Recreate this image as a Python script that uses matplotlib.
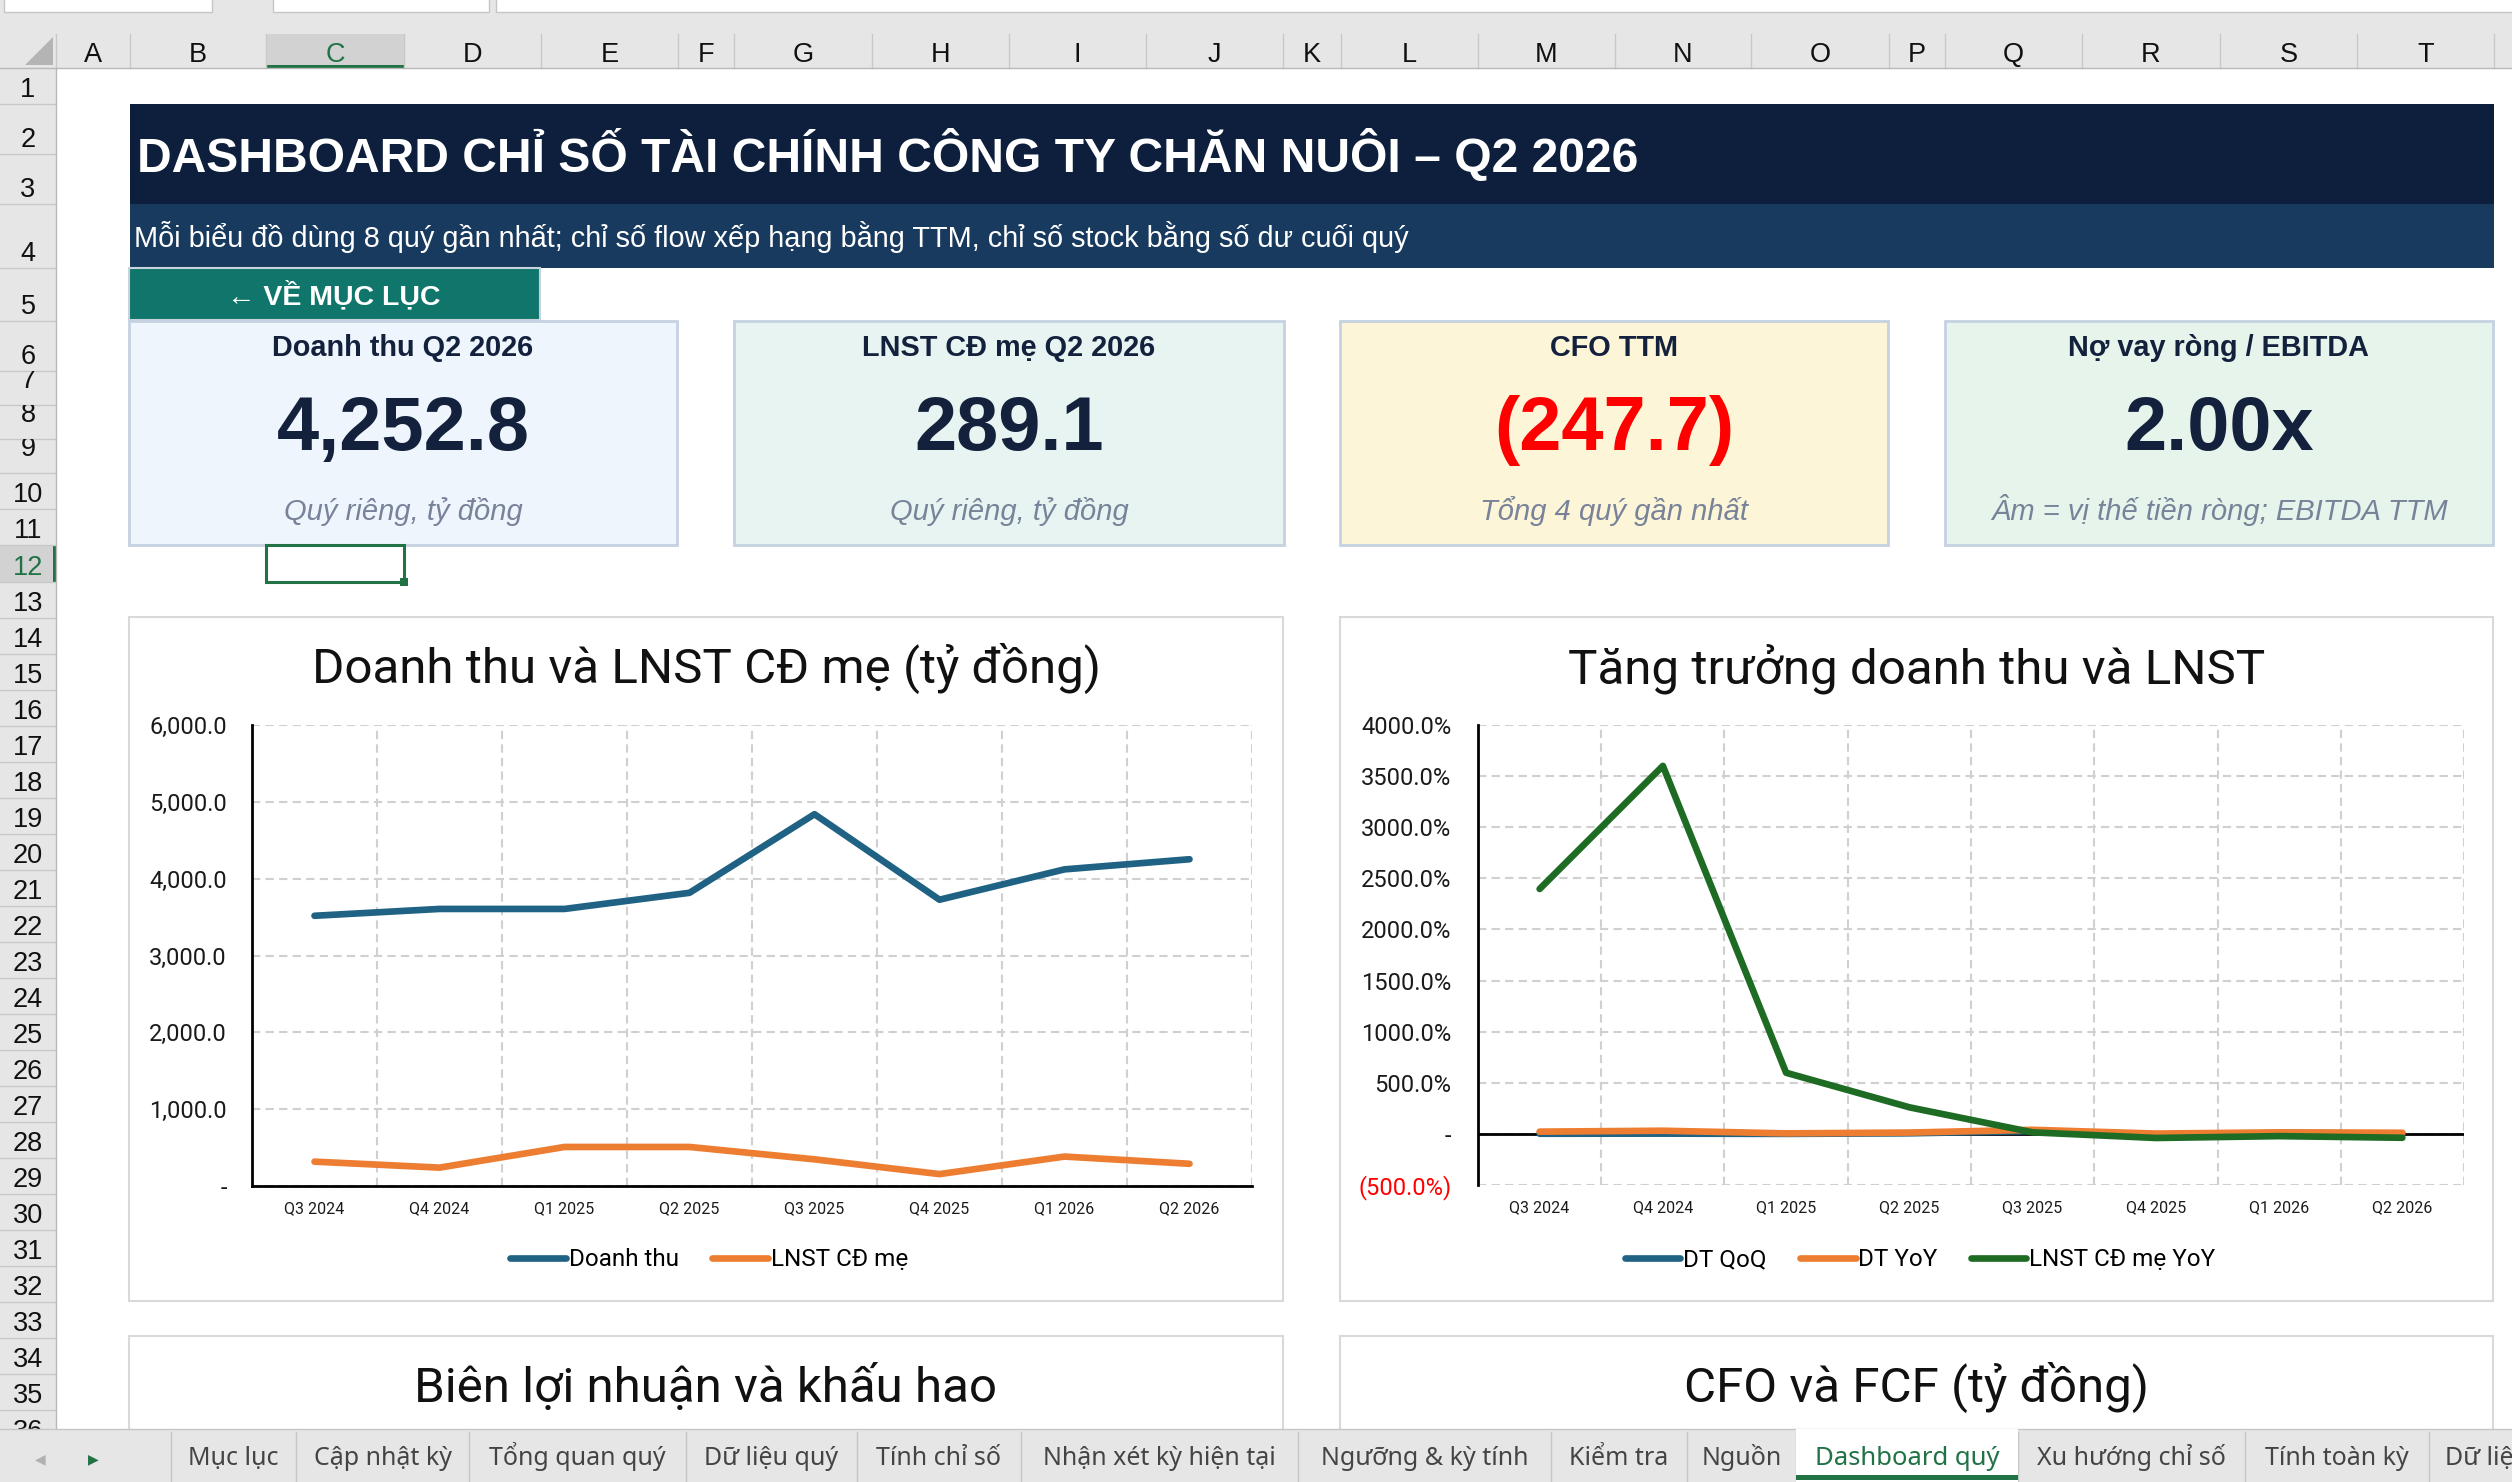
import numpy as np
import matplotlib.pyplot as plt
from matplotlib.patches import Rectangle, Polygon

# figure is laid out in screen pixels (2512 x 1482)
W, H = 2512, 1482

quarters = ['Q3 2024', 'Q4 2024', 'Q1 2025', 'Q2 2025', 'Q3 2025', 'Q4 2025', 'Q1 2026', 'Q2 2026']
doanh_thu = [3517, 3606, 3606, 3816, 4839, 3726, 4121, 4252.8]
lnst_cd_me = [317, 239, 508, 508, 347, 155, 383, 289.1]
dt_qoq = [1.5, 2.5, 0.0, 5.8, 26.8, -23.0, 10.6, 3.2]
dt_yoy = [22, 31, 5, 13, 40, 3, 15, 11]
lnst_yoy = [2396, 3600, 598, 260, 15, -40, -22, -38]

money_ticks = [0, 1000, 2000, 3000, 4000, 5000, 6000]
pct_ticks = [-500, 0, 500, 1000, 1500, 2000, 2500, 3000, 3500, 4000]

kpi_titles = ['Doanh thu Q2 2026', 'LNST CĐ mẹ Q2 2026', 'CFO TTM', 'Nợ vay ròng / EBITDA']
kpi_values = ['4,252.8', '289.1', '(247.7)', '2.00x']
kpi_notes = ['Quý riêng, tỷ đồng', 'Quý riêng, tỷ đồng', 'Tổng 4 quý gần nhất',
             'Âm = vị thế tiền ròng; EBITDA TTM']

col_letters = list('ABCDEFGHIJKLMNOPQRST')
col_edges = [56, 130, 266, 404, 541, 678, 734, 872, 1009, 1146, 1283, 1341, 1478,
             1615, 1751, 1889, 1945, 2082, 2220, 2357, 2494]
row_edges = [68, 104, 154, 204, 268, 321, 371, 405, 439, 473, 509, 545, 582] + \
            [582 + 36 * k for k in range(1, 25)]

tabs = ['Mục lục', 'Cập nhật kỳ', 'Tổng quan quý', 'Dữ liệu quý', 'Tính chỉ số',
        'Nhận xét kỳ hiện tại', 'Ngưỡng & kỳ tính', 'Kiểm tra', 'Nguồn', 'Dashboard quý',
        'Xu hướng chỉ số', 'Tính toàn kỳ', 'Dữ liệu']
tab_edges = [171, 296, 469, 686, 857, 1021, 1298, 1551, 1687, 1796, 2018, 2245, 2429, 2600]

plt.rcParams['font.family'] = ['Roboto', 'DejaVu Sans']
ARIAL = ['Liberation Sans', 'DejaVu Sans']
UI = ['Noto Sans', 'DejaVu Sans']
NAVY = '#13213d'
GREEN = '#217346'

fig = plt.figure(figsize=(W / 100, H / 100), dpi=100)
bg = fig.add_axes([0, 0, 1, 1])
bg.set_xlim(0, W)
bg.set_ylim(H, 0)
bg.axis('off')


def rect(x0, y0, x1, y1, fc, ec='none', lw=0, z=1, fill=True):
    bg.add_patch(Rectangle((x0, y0), x1 - x0, y1 - y0, fc=fc, ec=ec, lw=lw,
                           zorder=z, fill=fill))


def px_axes(x0, y0, x1, y1):
    return fig.add_axes([x0 / W, 1 - y1 / H, (x1 - x0) / W, (y1 - y0) / H])


# ---- excel chrome: formula bar, column and row headers
rect(0, 0, W, 68, '#e6e6e6')
rect(4, -2, 212, 12, 'white', '#c6c6c6', 1)
rect(273, -2, 489, 12, 'white', '#c6c6c6', 1)
rect(496, -2, W + 5, 12, 'white', '#c6c6c6', 1)
bg.add_patch(Polygon([(53, 37), (53, 65), (25, 65)], fc='#b4b4b4', ec='none', zorder=2))
rect(266, 34, 404, 68, '#d2d2d2', z=1.5)
rect(266, 65, 404, 68, GREEN, z=2)
for x in col_edges:
    bg.plot([x, x], [34, 68], color='#c8c8c8', lw=1, zorder=2)
bg.plot([0, W], [68, 68], color='#b8b8b8', lw=1, zorder=2)
for i, L in enumerate(col_letters):
    cx = (col_edges[i] + col_edges[i + 1]) / 2
    bg.text(cx, 62, L, ha='center', va='baseline', fontsize=19.5, family=ARIAL,
            color=GREEN if L == 'C' else '#111111', zorder=3)

rect(0, 68, 56, 1429, '#e6e6e6')
rect(0, 545, 56, 582, '#d2d2d2', z=1.5)
rect(53, 545, 56, 582, GREEN, z=2)
bg.plot([56, 56], [68, 1429], color='#b8b8b8', lw=1, zorder=2)
for i in range(len(row_edges) - 1):
    top, bot = row_edges[i], row_edges[i + 1]
    n = i + 1
    bg.plot([0, 56], [bot, bot], color='#c8c8c8', lw=1, zorder=2)
    yb = top + 17 if n in (7, 8, 9) else bot - 7
    t = bg.text(28, yb, str(n), ha='center', va='baseline', fontsize=19.5, family=ARIAL,
                color=GREEN if n == 12 else '#111111', zorder=3, clip_on=True)
    t.set_clip_path(Rectangle((0, top), 56, bot - top, transform=bg.transData))

# ---- banner, subtitle and back button
rect(130, 104, 2494, 204, '#0d1f3c')
bg.text(137, 172, 'DASHBOARD CHỈ SỐ TÀI CHÍNH CÔNG TY CHĂN NUÔI – Q2 2026', color='white',
        fontsize=34.6, fontweight='bold', family=ARIAL, va='baseline', zorder=3)
rect(130, 204, 2494, 268, '#183a5e')
bg.text(134, 247, 'Mỗi biểu đồ dùng 8 quý gần nhất; chỉ số flow xếp hạng bằng TTM, '
        'chỉ số stock bằng số dư cuối quý', color='white', fontsize=20.8, family=ARIAL,
        va='baseline', zorder=3)
rect(129, 268, 540, 320, '#10756a', '#c9d3de', 1.5)
bg.text(334, 304, '← VỀ MỤC LỤC', color='white', fontsize=20.5, fontweight='bold',
        family=ARIAL, ha='center', va='baseline', zorder=3)

# ---- KPI cards
card_x = [(129, 677), (734, 1284), (1340, 1888), (1945, 2493)]
card_bg = ['#eef5fc', '#e8f4f2', '#fdf5d8', '#e7f4ec']
for k, (x0, x1) in enumerate(card_x):
    rect(x0, 321, x1, 545, card_bg[k], '#c5d2e2', 2)
    cx = (x0 + x1) / 2
    bg.text(cx, 356, kpi_titles[k], ha='center', va='baseline', fontsize=20.8,
            fontweight='bold', color=NAVY, family=ARIAL, zorder=3)
    bg.text(cx, 450, kpi_values[k], ha='center', va='baseline', fontsize=54.5,
            fontweight='bold', color='#ff0000' if kpi_values[k].startswith('(') else NAVY,
            family=ARIAL, zorder=3)
    bg.text(cx, 520, kpi_notes[k], ha='center', va='baseline', fontsize=21,
            style='italic', color='#78839a', family=ARIAL, zorder=3)

# selected cell C12
rect(266, 545, 404, 582, 'none', GREEN, 2.2, z=3, fill=False)
rect(400, 578, 408, 586, GREEN, z=3.1)

# ---- chart frames
boxes = [(129, 617, 1283, 1301, 'Doanh thu và LNST CĐ mẹ (tỷ đồng)'),
         (1340, 617, 2493, 1301, 'Tăng trưởng doanh thu và LNST'),
         (129, 1336, 1283, 1600, 'Biên lợi nhuận và khấu hao'),
         (1340, 1336, 2493, 1600, 'CFO và FCF (tỷ đồng)')]
for x0, y0, x1, y1, title in boxes:
    rect(x0, y0, x1, y1, 'white', '#d9d9d9', 1.5)
    bg.text((x0 + x1) / 2, y0 + 66, title, ha='center', va='baseline', fontsize=35.5,
            color='#111111', zorder=3)

xpos = np.arange(len(quarters))
grid_kw = dict(color='#d0d0d0', ls=(0, (4, 2.5)), lw=1.5)


def style_axes(ax, ypad):
    ax.set_facecolor('none')
    ax.set_xlim(-0.5, len(quarters) - 0.5)
    ax.set_xticks(xpos)
    ax.set_xticklabels(quarters)
    ax.set_xticks(np.arange(0.5, len(quarters), 1), minor=True)
    ax.grid(which='minor', axis='x', **grid_kw)
    ax.grid(which='major', axis='y', **grid_kw)
    ax.tick_params(which='both', length=0)
    ax.tick_params(axis='y', labelsize=17, pad=ypad, labelcolor='#1a1a1a')
    ax.tick_params(axis='x', labelsize=11.5, pad=11, labelcolor='#1a1a1a')
    for s in ['top', 'right']:
        ax.spines[s].set_visible(False)
    ax.spines['left'].set_linewidth(2)
    ax.spines['left'].set_color('black')
    ax.set_axisbelow(True)


line_kw = dict(lw=4.8, solid_capstyle='round', solid_joinstyle='round', zorder=3)
leg_kw = dict(loc='center', frameon=False, fontsize=17.5, handlelength=2.3,
              handletextpad=0.12, columnspacing=1.35, bbox_transform=bg.transData)

# chart 1
ax1 = px_axes(252, 725, 1252, 1186)
style_axes(ax1, 18)
ax1.plot(xpos, doanh_thu, color='#1f6284', label='Doanh thu', **line_kw)
ax1.plot(xpos, lnst_cd_me, color='#ed7d31', label='LNST CĐ mẹ', **line_kw)
ax1.set_ylim(0, 6000)
ax1.set_yticks(money_ticks)
ax1.set_yticklabels(['-' if v == 0 else f'{v:,.1f}' for v in money_ticks])
ax1.spines['bottom'].set_linewidth(2)
ax1.spines['bottom'].set_color('black')
ax1.legend(ncol=2, bbox_to_anchor=(709, 1260), **leg_kw)

# chart 2
ax2 = px_axes(1478, 725, 2464, 1185)
style_axes(ax2, 19)
ax2.plot(xpos, dt_qoq, color='#1f6284', label='DT QoQ', **line_kw)
ax2.plot(xpos, dt_yoy, color='#ed7d31', label='DT YoY', **line_kw)
ax2.plot(xpos, lnst_yoy, color='#1e6b24', label='LNST CĐ mẹ YoY', **line_kw)
ax2.axhline(0, color='black', lw=2, zorder=2.5)
ax2.set_ylim(-500, 4000)
ax2.set_yticks(pct_ticks)
ax2.set_yticklabels(['-' if v == 0 else (f'({-v:.1f}%)' if v < 0 else f'{v:.1f}%')
                     for v in pct_ticks])
ax2.get_yticklabels()[0].set_color('#ff0000')
ax2.spines['bottom'].set_visible(False)
ax2.legend(ncol=3, bbox_to_anchor=(1920, 1260), **leg_kw)

# ---- sheet tabs
rect(0, 1429, W, H, '#e6e6e6', z=5)
bg.plot([0, W], [1429, 1429], color='#c6c6c6', lw=1, zorder=5.1)
bg.text(40, 1459, '◀', ha='center', va='center', fontsize=10, color='#b0b0b0',
        family=['DejaVu Sans'], zorder=6)
bg.text(93, 1459, '▶', ha='center', va='center', fontsize=10, color=GREEN,
        family=['DejaVu Sans'], zorder=6)
for i, name in enumerate(tabs):
    x0, x1 = tab_edges[i], tab_edges[i + 1]
    bg.plot([x0, x0], [1432, 1482], color='#c6c6c6', lw=1, zorder=5.2)
    if name == 'Dashboard quý':
        rect(x0, 1429, x1, H, 'white', z=5.3)
        rect(x0, 1475, x1, 1480, GREEN, z=5.4)
        bg.text((x0 + x1) / 2, 1465, name, ha='center', va='baseline', fontsize=18.5,
                fontweight='bold', color=GREEN, family=UI, zorder=6)
    elif i == len(tabs) - 1:
        bg.text(x0 + 16, 1465, name, ha='left', va='baseline', fontsize=18,
                color='#444444', family=UI, zorder=6)
    else:
        bg.text((x0 + x1) / 2, 1465, name, ha='center', va='baseline', fontsize=18,
                color='#444444', family=UI, zorder=6)

fig.savefig('out.png', dpi=100)
